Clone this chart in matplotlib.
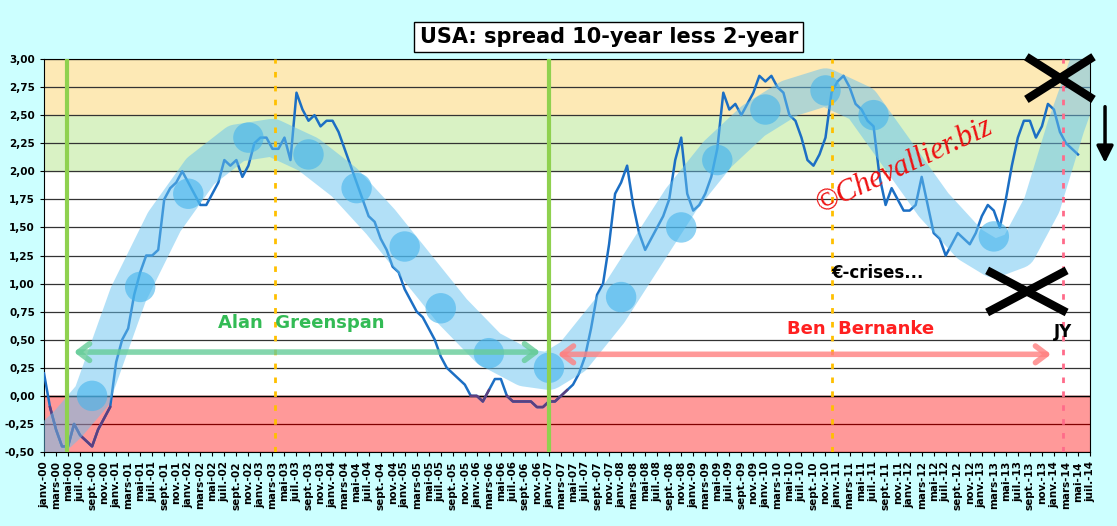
import matplotlib
matplotlib.use("Agg")
import matplotlib.pyplot as plt
import numpy as np
from matplotlib.patches import FancyArrowPatch

spread = [
 0.2,-0.1,-0.3,-0.45,-0.45,-0.25,-0.35,-0.4,-0.45,-0.3,-0.2,-0.1,
 0.3,0.5,0.6,0.9,1.1,1.25,1.25,1.3,1.75,1.85,1.9,2.0,
 1.9,1.8,1.7,1.7,1.8,1.9,2.1,2.05,2.1,1.95,2.05,2.25,
 2.3,2.3,2.2,2.2,2.3,2.1,2.7,2.55,2.45,2.5,2.4,2.45,
 2.45,2.35,2.2,2.05,1.9,1.75,1.6,1.55,1.4,1.3,1.15,1.1,
 0.95,0.85,0.75,0.7,0.6,0.5,0.35,0.25,0.2,0.15,0.1,0.0,
 0.0,-0.05,0.05,0.15,0.15,0.0,-0.05,-0.05,-0.05,-0.05,-0.1,-0.1,
 -0.05,-0.05,0.0,0.05,0.1,0.2,0.35,0.6,0.9,1.0,1.35,1.8,
 1.9,2.05,1.7,1.45,1.3,1.4,1.5,1.6,1.75,2.1,2.3,1.8,
 1.65,1.7,1.8,1.95,2.2,2.7,2.55,2.6,2.5,2.6,2.7,2.85,
 2.8,2.85,2.75,2.7,2.5,2.45,2.3,2.1,2.05,2.15,2.3,2.7,
 2.8,2.85,2.75,2.6,2.55,2.45,2.4,1.95,1.7,1.85,1.75,1.65,
 1.65,1.7,1.95,1.7,1.45,1.4,1.25,1.35,1.45,1.4,1.35,1.45,
 1.6,1.7,1.65,1.5,1.75,2.05,2.3,2.45,2.45,2.3,2.4,2.6,
 2.55,2.35,2.25,2.2,2.15]
months = np.arange(len(spread))

ribbon_x = [0,4,8,14,20,26,32,38,44,50,56,62,68,74,80,84,88,94,100,106,112,118,124,130,136,142,148,154,158,162,166,170,174]
ribbon_y = [-0.45,-0.25,0.0,0.9,1.55,2.0,2.25,2.3,2.15,1.9,1.55,1.15,0.75,0.42,0.25,0.22,0.35,0.75,1.25,1.75,2.15,2.45,2.65,2.75,2.6,2.15,1.7,1.35,1.22,1.3,1.7,2.4,3.0]
circle_x = [8,16,24,34,44,52,60,66,74,84,96,106,112,120,130,138,158]
circle_y = [0.0,0.97,1.8,2.3,2.15,1.85,1.33,0.78,0.38,0.25,0.88,1.5,2.1,2.55,2.72,2.5,1.42]

mnames = ['janv.','mars','mai','juil.','sept.','nov.']
tick_pos = list(range(0,175,2))
tick_lab = [f"{mnames[(p%12)//2]}-{(p//12):02d}" for p in tick_pos]

fig = plt.figure(figsize=(11.17,5.26), dpi=100, facecolor='#ccffff')
ax = fig.add_axes([44/1117, 74/526, 1046/1117, 393/526])
ax.set_facecolor('white')
ax.set_xlim(0,174); ax.set_ylim(-0.5,3.0)
ax.axhspan(-0.5,0,color='#ff9999',zorder=0)
ax.axhspan(2.0,2.5,color='#d9f2c4',zorder=0)
ax.axhspan(2.5,3.0,color='#fde9b5',zorder=0)
for y in np.arange(-0.5,3.01,0.25):
    ax.axhline(y,color='#800000' if y<=0 else '#333333',lw=0.9,zorder=1)
ax.axhline(0,color='black',lw=1,zorder=1)
ax.set_yticks(np.arange(-0.5,3.01,0.25))
ax.set_yticklabels([f"{v:.2f}".replace('.',',') for v in np.arange(-0.5,3.01,0.25)],fontsize=7.5,fontweight='bold')
ax.set_xticks(tick_pos)
ax.set_xticklabels(tick_lab,rotation=90,fontsize=7.5,fontweight='bold')
ax.tick_params(length=3)
for s in ax.spines.values(): s.set_linewidth(0.8)

sp = np.array(spread)
ax.plot(months,sp,color='#1c6fc4',lw=1.8,zorder=3)
neg = np.ma.masked_where(sp>0.05,sp)
ax.plot(months,neg,color='#5b3f80',lw=1.8,zorder=3)

ax.plot(ribbon_x,ribbon_y,color='#66c2f0',lw=27,alpha=0.5,solid_capstyle='round',solid_joinstyle='round',zorder=4)
ax.scatter(circle_x,circle_y,s=480,color='#44b4ec',alpha=0.6,zorder=4,edgecolors='none')

ax.axvline(3.8,color='#8fd14f',lw=3,zorder=5)
ax.axvline(84,color='#8fd14f',lw=3,zorder=5)
ax.axvline(38.5,color='#ffc000',lw=2,ls=(0,(2,3)),zorder=5)
ax.axvline(131,color='#ffc000',lw=2,ls=(0,(2,3)),zorder=5)
ax.axvline(169.5,color='#ff6b8a',lw=2,ls=(0,(2,3)),zorder=5)

ax.add_patch(FancyArrowPatch((4.5,0.39),(83,0.39),arrowstyle='<->,head_length=8,head_width=6',color='#66cc99',lw=4,zorder=6,alpha=0.8))
ax.add_patch(FancyArrowPatch((85,0.37),(168,0.37),arrowstyle='<->,head_length=8,head_width=6',color='#ff8080',lw=4,zorder=6,alpha=0.8))
ax.text(29,0.6,'Alan  Greenspan',color='#33bb55',fontsize=13,fontweight='bold',zorder=7)
ax.text(148,0.55,'Ben  Bernanke',color='#ff2020',fontsize=13,fontweight='bold',ha='right',zorder=7)
ax.text(131,1.05,'€-crises...',color='black',fontsize=12,fontweight='bold',zorder=7)
ax.text(168,0.52,'JY',color='black',fontsize=12,fontweight='bold',zorder=7)
ax.text(143,2.05,'©Chevallier.biz',color='#ee1111',fontsize=22,fontstyle='italic',fontfamily='Liberation Serif',rotation=25,ha='center',va='center',zorder=7)
for (cx,cy,w,h) in [(169,2.83,5,0.17),(163.5,0.93,6,0.17)]:
    ax.plot([cx-w,cx+w],[cy-h,cy+h],color='black',lw=6,zorder=8,clip_on=False)
    ax.plot([cx-w,cx+w],[cy+h,cy-h],color='black',lw=6,zorder=8,clip_on=False)
ax.annotate('',xy=(176.5,2.05),xytext=(176.5,2.6),arrowprops=dict(arrowstyle='-|>,head_width=0.5,head_length=1',color='black',lw=2.5),annotation_clip=False)

fig.text(0.545,0.93,'USA: spread 10-year less 2-year',ha='center',va='center',fontsize=15,fontweight='bold',
         bbox=dict(boxstyle='square,pad=0.25',fc='white',ec='black',lw=1))
fig.savefig('out.png',dpi=100,facecolor=fig.get_facecolor())
